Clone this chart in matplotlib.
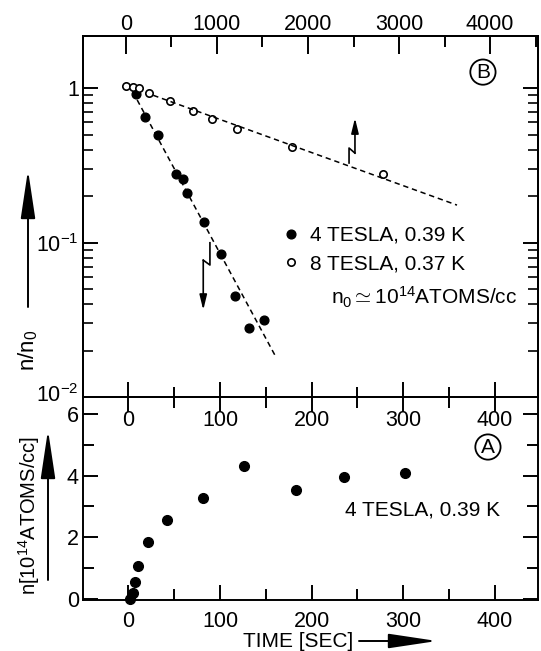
import numpy as np
import matplotlib
matplotlib.use('Agg')
import matplotlib.pyplot as plt
import matplotlib.transforms as mtransforms
from matplotlib.ticker import MultipleLocator, FixedLocator, FuncFormatter, NullFormatter

plt.rcParams['font.family'] = ['Liberation Sans', 'DejaVu Sans']
plt.rcParams['mathtext.fontset'] = 'custom'
plt.rcParams['mathtext.rm'] = 'Liberation Sans'
plt.rcParams['mathtext.it'] = 'Liberation Sans'
plt.rcParams['mathtext.bf'] = 'Liberation Sans:bold'

# (B) decroissance, 4 tesla : temps en sec (echelle du bas)
t_4T = [8, 18, 32, 52, 60, 64, 82, 101, 116, 132, 148]
r_4T = [0.92, 0.65, 0.50, 0.28, 0.26, 0.21, 0.137, 0.084, 0.045, 0.028, 0.0315]
fit_t_4T = [9.5, 161]
fit_r_4T = [0.84, 0.0182]

# (B) decroissance, 8 tesla : temps en sec (echelle du haut)
t_8T = [0, 77, 143, 253, 484, 736, 945, 1220, 1824, 2824]
r_8T = [1.03, 1.02, 1.0, 0.93, 0.83, 0.71, 0.63, 0.545, 0.417, 0.278]
fit_t_8T = [300, 3637]
fit_r_8T = [0.90, 0.175]

# (A) remplissage, 4 tesla
t_fill = [2, 5, 7, 10.5, 21.7, 41.7, 81, 126, 183, 235, 302]
n_fill = [0.0, 0.2, 0.54, 1.06, 1.84, 2.55, 3.26, 4.30, 3.54, 3.97, 4.10]

# fleches brisees (zigzag puis fleche)
up_t = [2451, 2451, 2516]
up_r = [0.328, 0.41, 0.38]
up_tip = 0.641
down_t = [89, 89, 81.7]
down_r = [0.0998, 0.0716, 0.077]
down_tip = 0.0366

W, H = 541., 651.
def box(l, t, r, b):
    return [l/W, 1-b/H, (r-l)/W, (b-t)/H]

fig = plt.figure(figsize=(5.41, 6.51), dpi=100)
ax_b = fig.add_axes(box(83, 36, 538, 397))
ax_a = fig.add_axes(box(83, 397, 538, 599.5))
ax_t = ax_b.twiny()

fs_tick = 15.5
fs_txt = 15
lw_ax = 1.4
dash = (0, (3.5, 2.5))

# ---- panel B
ax_b.set_yscale('log')
ax_b.set_ylim(0.01, 2.18)
ax_b.set_xlim(-49.7, 447.5)
ax_t.set_xlim(-472, 4527)

h1, = ax_b.plot(t_4T, r_4T, 'o', color='k', ms=6.3, label='4 TESLA, 0.39 K')
ax_b.plot(fit_t_4T, fit_r_4T, color='k', lw=1.1, linestyle=dash)
h2, = ax_t.plot(t_8T, r_8T, 'o', mfc='white', mec='k', mew=1.2, ms=5.3,
                label='8 TESLA, 0.37 K')
ax_t.plot(fit_t_8T, fit_r_8T, color='k', lw=1.1, linestyle=dash)

arr_small = dict(arrowstyle='-|>,head_length=0.9,head_width=0.22', color='k',
                 lw=1.2, shrinkA=0, shrinkB=0, mutation_scale=10)
ax_t.plot(up_t, up_r, color='k', lw=1.2)
ax_t.annotate('', xy=(up_t[-1], up_tip), xytext=(up_t[-1], up_r[-1]), arrowprops=arr_small)
ax_b.plot(down_t, down_r, color='k', lw=1.2)
ax_b.annotate('', xy=(down_t[-1], down_tip), xytext=(down_t[-1], down_r[-1]),
              arrowprops=arr_small)

minors = [k*10.0**e for e in (-2, -1) for k in range(2, 10)]
ax_b.yaxis.set_major_locator(FixedLocator([0.01, 0.1, 1]))
ax_b.yaxis.set_minor_locator(FixedLocator(minors))
ax_b.yaxis.set_major_formatter(FuncFormatter(
    lambda v, p: '1' if abs(v-1) < 1e-9 else r'$10^{%d}$' % round(np.log10(v))))
ax_b.yaxis.set_minor_formatter(NullFormatter())
ax_b.tick_params(axis='y', which='both', direction='in', left=True, right=True,
                 labelsize=fs_tick, pad=3)
ax_b.tick_params(axis='y', which='major', length=11, width=lw_ax)
ax_b.tick_params(axis='y', which='minor', length=7, width=1.2)

# ticks du bas de B = moitie haute des ticks de la ligne commune
ax_b.xaxis.set_major_locator(MultipleLocator(100))
ax_b.xaxis.set_minor_locator(MultipleLocator(50))
ax_b.tick_params(axis='x', which='both', direction='in', bottom=True, top=False,
                 labelbottom=False)
ax_b.tick_params(axis='x', which='major', length=11, width=lw_ax)
ax_b.tick_params(axis='x', which='minor', length=7, width=lw_ax)

ax_t.xaxis.set_major_locator(MultipleLocator(1000))
ax_t.xaxis.set_minor_locator(MultipleLocator(500))
ax_t.tick_params(axis='x', which='both', direction='in', labelsize=fs_tick, pad=1)
ax_t.tick_params(axis='x', which='major', length=13, width=lw_ax)
ax_t.tick_params(axis='x', which='minor', length=8, width=lw_ax)

ax_t.legend(handles=[h1, h2], loc='upper left', bbox_to_anchor=(0.4396, 0.4737),
            frameon=False, borderpad=0, borderaxespad=0, handlelength=0.8,
            handletextpad=0.5, labelspacing=0.45, fontsize=fs_txt, numpoints=1)
ax_b.text(0.545, 0.255, r'n$_0\simeq10^{14}$ATOMS/cc', transform=ax_b.transAxes,
          ha='left', va='baseline', fontsize=fs_txt)
ax_b.text(0.879, 0.900, 'B', transform=ax_b.transAxes, ha='center', va='center',
          fontsize=fs_txt, bbox=dict(boxstyle='circle,pad=0.15', fc='none', ec='k', lw=1.3))

# ---- panel A
ax_a.set_xlim(-49.7, 447.5)
ax_a.set_ylim(-0.02, 6.55)
ax_a.plot(t_fill, n_fill, 'o', color='k', ms=7, clip_on=False)

ax_a.xaxis.set_major_locator(MultipleLocator(100))
ax_a.xaxis.set_minor_locator(MultipleLocator(50))
ax_a.yaxis.set_major_locator(MultipleLocator(2))
ax_a.yaxis.set_minor_locator(MultipleLocator(1))
ax_a.tick_params(axis='x', which='both', direction='in', top=True, bottom=True,
                 labeltop=True, labelbottom=True, labelsize=fs_tick)
ax_a.tick_params(axis='x', which='major', length=11, width=lw_ax, pad=8)
ax_a.tick_params(axis='x', which='minor', length=8, width=lw_ax)
ax_a.tick_params(axis='y', which='both', direction='in', left=True, right=True,
                 labelsize=fs_tick, pad=3)
ax_a.tick_params(axis='y', which='major', length=11, width=lw_ax)
ax_a.tick_params(axis='y', which='minor', length=8, width=lw_ax)

ax_a.text(0.576, 0.442, '4 TESLA, 0.39 K', transform=ax_a.transAxes, ha='left',
          va='center', fontsize=fs_txt)
ax_a.text(0.890, 0.753, 'A', transform=ax_a.transAxes, ha='center', va='center',
          fontsize=fs_txt, bbox=dict(boxstyle='circle,pad=0.15', fc='none', ec='k', lw=1.3))

for ax in (ax_a, ax_b, ax_t):
    for s in ax.spines.values():
        s.set_linewidth(lw_ax)

# etiquettes du haut de A : sous la ligne commune
off = mtransforms.ScaledTranslation(0, -0.13, fig.dpi_scale_trans)
for t in ax_a.xaxis.get_major_ticks():
    t.label2.set_verticalalignment('top')
    t.label2.set_transform(ax_a.get_xaxis_transform(which='tick2') + off)

# 10^-2 un peu au-dessus de la ligne
lab = ax_b.yaxis.get_major_ticks()[0].label1
lab.set_transform(lab.get_transform() +
                  mtransforms.ScaledTranslation(0, 0.04, fig.dpi_scale_trans))

# labels des axes + fleches
arr_big = dict(arrowstyle='-|>,head_length=3.0,head_width=0.45', color='k',
               lw=1.4, shrinkA=0, shrinkB=0, mutation_scale=10)
fig.text(28/W, 1-350/H, r'n/n$_0$', rotation=90, ha='center', va='center', fontsize=16)
fig.text(29/W, 1-515/H, r'n[10$^{14}$ATOMS/cc]', rotation=90, ha='center', va='center',
         fontsize=14.5)
fig.text(298/W, 1-647/H, 'TIME [SEC]', ha='center', va='baseline', fontsize=fs_txt)
ax_b.annotate('', xy=(28, H-170), xytext=(28, H-307), xycoords='figure pixels',
              arrowprops=arr_big)
ax_a.annotate('', xy=(48, H-430), xytext=(48, H-580), xycoords='figure pixels',
              arrowprops=arr_big)
ax_a.annotate('', xy=(437, H-641), xytext=(359, H-641), xycoords='figure pixels',
              arrowprops=arr_big)

fig.savefig('out.png', dpi=100)
